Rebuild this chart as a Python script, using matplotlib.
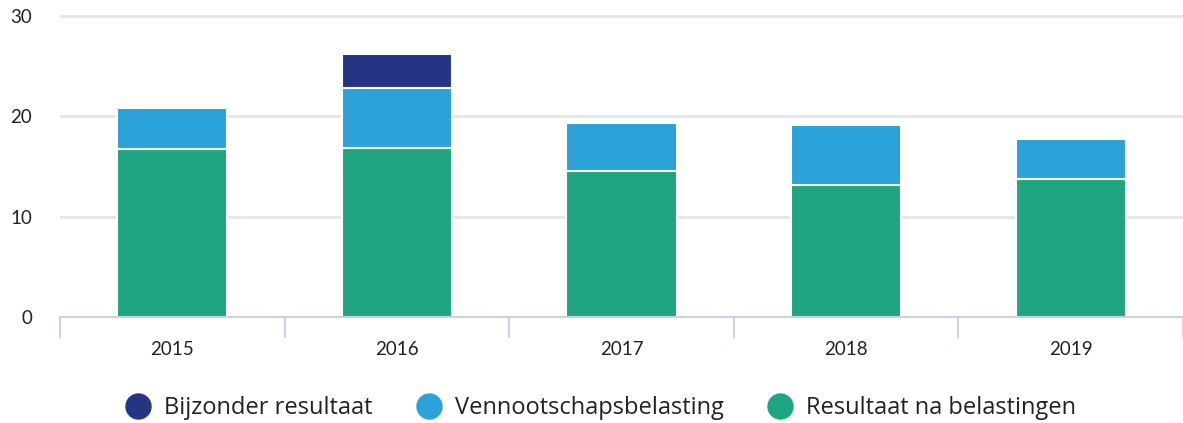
import matplotlib.pyplot as plt
import numpy as np
from matplotlib.lines import Line2D

years = ["2015", "2016", "2017", "2018", "2019"]
resultaat_na_bel = [16.7, 16.85, 14.5, 13.1, 13.7]
vpb = [4.1, 5.95, 4.85, 6.05, 4.05]
bijzonder = [0, 3.4, 0, 0, 0]

c_bijz = "#263583"
c_vpb = "#2ba3da"
c_res = "#1fa582"
txt = "#222222"

plt.rcParams['font.family'] = ['Lato', 'DejaVu Sans']

fig = plt.figure(figsize=(11.83, 4.23), dpi=100)
W, H = 1183, 423
ax = fig.add_axes([60 / W, (H - 317) / H, 1 - 60 / W, 311.4 / H])

x = np.arange(len(years))
res = np.array(resultaat_na_bel)
vp = np.array(vpb)
bz = np.array(bijzonder)
bw = 0.49
ax.bar(x, res, bw, color=c_res, edgecolor="white", linewidth=1.5, zorder=3)
ax.bar(x, vp, bw, bottom=res, color=c_vpb, edgecolor="white", linewidth=1.5, zorder=3)
mask = bz > 0
ax.bar(x[mask], bz[mask], bw, bottom=(res + vp)[mask], color=c_bijz,
       edgecolor="white", linewidth=1.5, zorder=3)

ax.set_xlim(-0.5, 4.5 - 7 / 226)
ax.set_ylim(0, 31)
ax.set_yticks([0, 10, 20, 30])
ax.yaxis.grid(True, color="#e6e6e6", linewidth=2, zorder=0)
ax.tick_params(axis="y", length=0, pad=20, labelsize=13.5, labelcolor=txt)

ax.set_xticks(np.arange(-0.5, 5, 1.0))
ax.set_xticklabels([])
ax.set_xticks(x, minor=True)
ax.set_xticklabels(years, minor=True)
ax.tick_params(axis="x", which="major", length=15, width=1.5, color="#c8d3e6", direction="out")
ax.tick_params(axis="x", which="minor", length=0, pad=17, labelsize=13.5, labelcolor=txt)

for s in ["top", "right", "left"]:
    ax.spines[s].set_visible(False)
ax.spines["bottom"].set_color("#c8d3e6")
ax.spines["bottom"].set_linewidth(1.5)
ax.spines["bottom"].set_zorder(4)

handles = [Line2D([], [], marker="o", linestyle="", markersize=18, color=c)
           for c in (c_bijz, c_vpb, c_res)]
labels = ["Bijzonder resultaat", "Vennootschapsbelasting", "Resultaat na belastingen"]
fig.legend(handles, labels, loc="center", bbox_to_anchor=(600 / W, 1 - 408 / H), ncol=3,
           frameon=False, handletextpad=0.5, columnspacing=1.8, handlelength=1.2,
           labelcolor=txt, prop={"family": ["Open Sans", "DejaVu Sans"], "size": 17})

fig.savefig("out.png", dpi=100)
